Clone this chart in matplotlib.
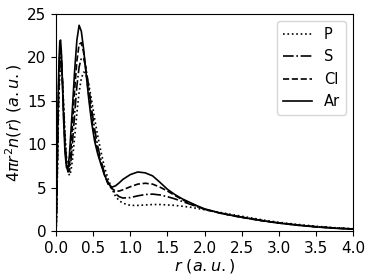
import matplotlib
matplotlib.use("Agg")
import matplotlib.pyplot as plt

# radius grid (a.u.)
r = [0.0, 0.01, 0.02, 0.03, 0.04, 0.05, 0.06, 0.07, 0.08, 0.09, 0.10,
     0.12, 0.14, 0.16, 0.18, 0.20, 0.22, 0.25, 0.28, 0.31, 0.34, 0.37,
     0.40, 0.44, 0.48, 0.52, 0.56, 0.60, 0.65, 0.70, 0.75, 0.80, 0.85,
     0.90, 1.0, 1.1, 1.2, 1.3, 1.4, 1.5, 1.6, 1.7, 1.8, 1.9, 2.0, 2.2,
     2.4, 2.6, 2.8, 3.0, 3.25, 3.5, 3.75, 4.0]

# radial densities
P = [0, 3.0, 8.0, 12.6, 15.9, 18.0, 19.0, 19.0, 18.1, 16.6, 14.8,
     11.2, 8.5, 6.9, 6.4, 6.9, 8.2, 10.8, 13.6, 16.0, 17.6, 18.3,
     18.2, 16.9, 15.0, 12.9, 11.0, 9.3, 7.4, 6.0, 4.9, 4.0, 3.5,
     3.2, 2.95, 2.95, 3.0, 3.05, 3.05, 3.0, 2.95, 2.85, 2.75, 2.6, 2.45, 2.15,
     1.85, 1.55, 1.25, 1.0, 0.76, 0.55, 0.38, 0.26]
S = [0, 3.5, 9.0, 13.8, 17.2, 19.2, 20.0, 19.7, 18.3, 16.4, 14.3,
     10.5, 8.0, 6.8, 6.9, 8.1, 10.1, 13.5, 16.7, 18.9, 19.9, 19.9,
     18.9, 16.6, 14.0, 11.7, 9.8, 8.3, 6.7, 5.6, 4.9, 4.3, 3.95,
     3.8, 3.85, 4.05, 4.2, 4.25, 4.15, 3.95, 3.7, 3.4, 3.1, 2.8, 2.5, 2.08,
     1.74, 1.44, 1.17, 0.93, 0.69, 0.5, 0.35, 0.24]
Cl = [0, 4.0, 10.0, 15.0, 18.5, 20.3, 21.0, 20.3, 18.5, 16.2, 13.8,
      9.8, 7.6, 6.9, 7.6, 9.5, 12.2, 16.3, 19.6, 21.5, 21.7, 20.6,
      18.6, 15.6, 13.0, 10.8, 9.2, 7.9, 6.5, 5.4, 4.9, 4.6, 4.6,
      4.75, 5.1, 5.4, 5.5, 5.4, 5.05, 4.6, 4.1, 3.6, 3.2, 2.85, 2.5, 2.07,
      1.72, 1.42, 1.14, 0.91, 0.67, 0.48, 0.33, 0.22]
Ar = [0, 4.5, 11.0, 16.5, 20.0, 21.8, 22.0, 20.8, 18.5, 15.8, 13.0,
      9.0, 7.3, 7.2, 8.8, 11.5, 14.2, 18.5, 22.0, 23.7, 23.0, 21.0,
      18.5, 15.2, 12.4, 10.3, 8.9, 7.8, 6.5, 5.5, 5.05, 5.2, 5.55,
      5.95, 6.5, 6.8, 6.7, 6.35, 5.6, 4.8, 4.2, 3.7, 3.3, 2.9, 2.55, 2.1,
      1.75, 1.45, 1.16, 0.92, 0.67, 0.47, 0.32, 0.21]

fig = plt.figure(figsize=(3.74, 2.8), dpi=100)
ax = fig.add_axes([0.150, 0.175, 0.794, 0.775])

ax.plot(r, P, color='black', linestyle=':', linewidth=1.2, label='P')
ax.plot(r, S, color='black', linestyle='-.', linewidth=1.2, label='S')
ax.plot(r, Cl, color='black', linestyle='--', linewidth=1.2, label='Cl')
ax.plot(r, Ar, color='black', linestyle='-', linewidth=1.2, label='Ar')

ax.set_xlim(0, 4)
ax.set_ylim(0, 25)
ax.set_xticks([0.0, 0.5, 1.0, 1.5, 2.0, 2.5, 3.0, 3.5, 4.0])
ax.set_yticks([0, 5, 10, 15, 20, 25])
ax.tick_params(labelsize=11)
ax.set_xlabel(r'$r\ (a.u.)$', fontsize=11.5, labelpad=1)
ax.set_ylabel(r'$4\pi r^2 n(r)\ (a.u.)$', fontsize=11.5, labelpad=2)
ax.legend(loc='upper right', fontsize=10.5)

fig.savefig('out.png', dpi=100)
